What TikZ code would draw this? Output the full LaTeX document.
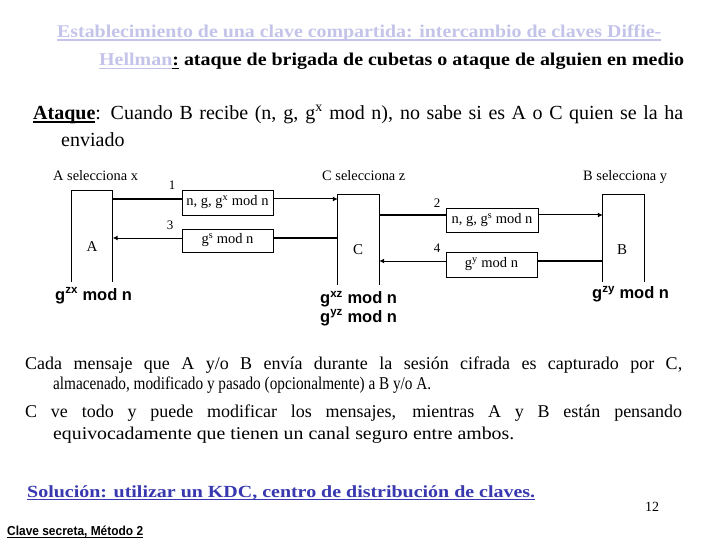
\documentclass[tikz,border=0pt]{standalone}
\usepackage{fontspec}
\usepackage{graphicx}
\setmainfont{Liberation Serif}
\newfontfamily\arialfont{Liberation Sans}
\usetikzlibrary{arrows.meta}
\definecolor{titlelav}{RGB}{196,196,234}
\definecolor{solblue}{RGB}{56,56,176}
% underline at a fixed depth, and a line squeezed to a given width
\newcommand{\ulin}[1]{\setbox0\hbox{#1}\rlap{\vrule height -2pt depth 3.2pt width \wd0}\box0\relax}
\newcommand{\fitw}[2]{\resizebox{#1}{\height}{#2}}

\begin{document}
\begin{tikzpicture}[x=1pt, y=-1pt,
    txt/.style={inner sep=0pt, anchor=base west},
    party/.style={inner sep=0pt, minimum width=41pt},
    msgbox/.style={draw, line width=0.8pt, inner sep=0pt, minimum width=91pt, minimum height=24pt, font=\fontsize{14.5}{16}\selectfont},
    stepnum/.style={inner sep=0pt, font=\fontsize{13}{15}\selectfont},
    keytxt/.style={inner sep=0pt, anchor=base west, font=\fontsize{16.5}{19}\selectfont\arialfont\bfseries},
    thickline/.style={line width=2.6pt},
    thinarrow/.style={line width=1pt, -{Latex[length=5pt,width=5pt]}}]
    \fill[white] (0,0) rectangle (720,540);
    \useasboundingbox (0,0) rectangle (720,540);

    % title and attack
    \node[txt, font=\fontsize{18}{20}\selectfont\bfseries, text=titlelav] (title1) at (57,37.5) {\fitw{604pt}{\ulin{Establecimiento de una clave compartida: intercambio de claves Diffie-}}};
    \node[txt, font=\fontsize{18}{20}\selectfont\bfseries] (title2) at (99,66) {\fitw{585pt}{{\color{titlelav}\ulin{Hellman}}\ulin{:} ataque de brigada de cubetas o ataque de alguien en medio}};
    \node[txt, font=\fontsize{20}{24}\selectfont] (atk1) at (33,119.5) {\makebox[650pt][s]{\ulin{\textbf{Ataque}}: Cuando B recibe (n, g, g\textsuperscript{x} mod n), no sabe si es A o C quien se la ha}};
    \node[txt, font=\fontsize{20}{24}\selectfont] (atk2) at (61,147) {enviado};

    % the three parties
    \node[txt, font=\fontsize{14.4}{16}\selectfont] (selA) at (53,181) {A selecciona x};
    \node[txt, font=\fontsize{14.4}{16}\selectfont] (selC) at (322,181) {C selecciona z};
    \node[txt, font=\fontsize{14.4}{16}\selectfont] (selB) at (583,181) {B selecciona y};

    \node[party, minimum height=91pt] (pA) at (92,236.5) {};
    \node[party, minimum height=90pt] (pC) at (358.5,240) {};
    \node[party, minimum height=87pt] (pB) at (623.5,238.5) {};
    \foreach \p in {pA,pC,pB}
        \draw[line width=0.9pt] (\p.south west) -- (\p.north west) -- (\p.north east) -- (\p.south east);
    \node[font=\fontsize{15}{17}\selectfont] (nA) at (92,247) {A};
    \node[font=\fontsize{15}{17}\selectfont] (nC) at (358,250) {C};
    \node[font=\fontsize{15}{17}\selectfont] (nB) at (622,250) {B};

    % messages
    \node[msgbox, minimum height=25pt] (m1) at (227.5,202.5) {n, g, g\textsuperscript{x} mod n};
    \node[msgbox, minimum height=23pt] (m3) at (227.5,240.5) {g\textsuperscript{s} mod n};
    \node[msgbox, minimum width=92pt] (m2) at (492,220) {n, g, g\textsuperscript{s} mod n};
    \node[msgbox, minimum height=25pt] (m4) at (491.5,264.5) {g\textsuperscript{y} mod n};
    \node[stepnum] (s1) at (172,185) {1};
    \node[stepnum] (s3) at (170,225) {3};
    \node[stepnum] (s2) at (437,203) {2};
    \node[stepnum] (s4) at (437,248) {4};

    \coordinate (h1) at (0,199);
    \coordinate (h3) at (0,238);
    \coordinate (h2) at (0,215);
    \coordinate (h4) at (0,261);
    \draw[thickline] (pA.east |- h1) -- (m1.west |- h1);
    \draw[thinarrow] (m1.east |- h1) -- (pC.west |- h1);
    \draw[thickline] (pC.west |- h3) -- (m3.east |- h3);
    \draw[thinarrow] (m3.west |- h3) -- (pA.east |- h3);
    \draw[thickline] (pC.east |- h2) -- (m2.west |- h2);
    \draw[thinarrow] (m2.east |- h2) -- (pB.west |- h2);
    \draw[thickline] (pB.west |- h4) -- (m4.east |- h4);
    \draw[thinarrow] (m4.west |- h4) -- (pC.east |- h4);

    % keys
    \node[keytxt] (kA) at (55,300) {g\textsuperscript{zx} mod n};
    \node[keytxt] (kC1) at (320,303.5) {g\textsuperscript{xz} mod n};
    \node[keytxt] (kC2) at (320,322) {g\textsuperscript{yz} mod n};
    \node[keytxt] (kB) at (592,298.5) {g\textsuperscript{zy} mod n};

    % remarks
    \node[txt, font=\fontsize{18}{22}\selectfont] (p1a) at (25,369) {\makebox[657pt][s]{Cada mensaje que A y/o B envía durante la sesión cifrada es capturado por C,}};
    \node[txt, font=\fontsize{18}{22}\selectfont] (p1b) at (53,389) {\fitw{378pt}{almacenado, modificado y pasado (opcionalmente) a B y/o A.}};
    \node[txt, font=\fontsize{18}{22}\selectfont] (p2a) at (25,417) {\makebox[657pt][s]{C ve todo y puede modificar los mensajes, mientras A y B están pensando}};
    \node[txt, font=\fontsize{18}{22}\selectfont] (p2b) at (53,439) {\fitw{461pt}{equivocadamente que tienen un canal seguro entre ambos.}};

    \node[txt, font=\fontsize{17}{20}\selectfont\bfseries, text=solblue] (sol) at (27,497) {\fitw{508pt}{\ulin{Solución: utilizar un KDC, centro de distribución de claves.}}};
    \node[inner sep=0pt, anchor=base, font=\fontsize{14}{16}\selectfont] (pg) at (652,511) {12};
    \node[txt, font=\fontsize{13}{15}\selectfont\arialfont\bfseries] (foot) at (7,535) {\fitw{136pt}{\ulin{Clave secreta, Método 2}}};
\end{tikzpicture}
\end{document}
